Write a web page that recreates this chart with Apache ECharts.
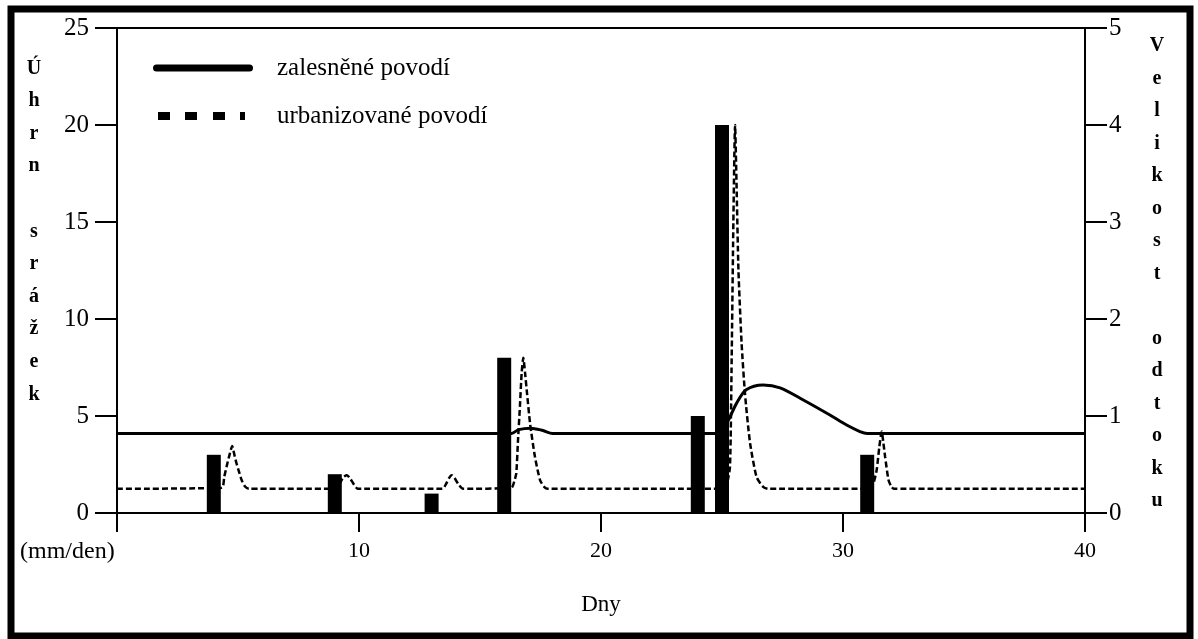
<!DOCTYPE html>
<html>
<head>
<meta charset="utf-8">
<script src="https://cdn.jsdelivr.net/npm/echarts@6/dist/echarts.min.js"></script>
<style>
html,body{margin:0;padding:0;background:#fff;}
#chart{width:1198px;height:639px;}
</style>
</head>
<body>
<div id="chart"></div>
<script>
// ---- data ----
const rainDays = [4, 9, 13, 16, 24, 25, 31];
const rainMm   = [3, 2, 1, 8, 5, 20, 3];

const forestDays = [0, 16.3, 16.6, 17.1, 17.6, 18.0, 25.0, 25.15, 25.33, 25.6, 26.0, 26.7, 27.4, 28.36, 29.46, 30.15, 30.7, 31.0, 40];
const forestFlow = [0.82, 0.82, 0.86, 0.875, 0.85, 0.82, 0.82, 0.9, 0.99, 1.13, 1.27, 1.32, 1.29, 1.165, 1.01, 0.907, 0.84, 0.82, 0.82];

const urbanDays = [0, 4.33, 4.43, 4.53, 4.65, 4.76, 4.85, 4.94, 5.05, 5.15, 5.3, 5.45,
  9.0, 9.2, 9.35, 9.5, 9.65, 9.8, 9.95,
  13.45, 13.6, 13.72, 13.83, 13.95, 14.1, 14.3,
  16.3, 16.42, 16.5, 16.57, 16.65, 16.72, 16.79, 16.86, 16.93, 17.07, 17.27, 17.48, 17.65, 17.8,
  25.0, 25.2, 25.33, 25.4, 25.47, 25.54, 25.6, 25.68, 25.81, 25.95, 26.16, 26.43, 26.7, 26.9,
  31.1, 31.25, 31.39, 31.5, 31.6, 31.67, 31.74, 31.88, 32.0, 32.1, 40];
const urbanFlow = [0.25, 0.26, 0.37, 0.48, 0.6, 0.69, 0.6, 0.51, 0.42, 0.34, 0.27, 0.25,
  0.25, 0.3, 0.37, 0.39, 0.35, 0.29, 0.25,
  0.25, 0.3, 0.36, 0.39, 0.36, 0.3, 0.25,
  0.26, 0.33, 0.41, 0.75, 1.1, 1.44, 1.6, 1.45, 1.27, 0.92, 0.58, 0.34, 0.27, 0.25,
  0.25, 0.3, 0.48, 1.6, 3.0, 4.0, 3.4, 2.5, 1.75, 1.23, 0.72, 0.37, 0.27, 0.25,
  0.25, 0.3, 0.44, 0.68, 0.84, 0.72, 0.58, 0.34, 0.27, 0.25, 0.25];

const xTicks = [0, 10, 20, 30, 40];
const leftTitle = 'Úhrn srážek';
const rightTitle = 'Velikost odtoku';
const forestName = 'zalesněné povodí';
const urbanName = 'urbanizované povodí';

// ---- helpers ----
const zip = (a, b) => a.map((v, i) => [v, b[i]]);
const stack = s => s.split('').map(c => c === ' ' ? '' : c).join('\n');
const FONT = '"Liberation Serif", "Times New Roman", serif';

const chart = echarts.init(document.getElementById('chart'), null, {renderer: 'canvas'});
chart.setOption({
  animation: false,
  backgroundColor: '#fff',
  textStyle: {fontFamily: FONT, color: '#000'},
  grid: {left: 117, right: 113, top: 28, bottom: 126, show: true, borderColor: '#000', borderWidth: 2, backgroundColor: 'transparent'},
  legend: {
    orient: 'vertical', left: 148, top: 48,
    itemWidth: 100, itemHeight: 8, itemGap: 18,
    textStyle: {fontFamily: FONT, fontSize: 25, color: '#000', lineHeight: 30, padding: [0, 0, 0, 19]},
    data: [
      {name: forestName, icon: 'path://M3.5,0H96.5A3.5,3.5,0,0,1,96.5,7H3.5A3.5,3.5,0,0,1,3.5,0Z'},
      {name: urbanName, icon: 'path://M0,0h0.01v0.01h-0.01z M5,0h12v8h-12z M32,0h12v8h-12z M60,0h12v8h-12z M87,0h5v8h-5z M99.99,7.99h0.01v0.01h-0.01z'}
    ],
    selectedMode: false
  },
  xAxis: {
    type: 'value', min: 0, max: 40, interval: 10,
    axisLine: {show: true, onZero: false, lineStyle: {color: '#000', width: 2}},
    axisTick: {show: true, length: 19, lineStyle: {color: '#000', width: 2}},
    axisLabel: {margin: 27, fontSize: 22, fontFamily: FONT, color: '#000',
      formatter: v => (v === xTicks[0] ? '' : String(v))},
    splitLine: {show: false},
    name: 'Dny', nameLocation: 'middle', nameGap: 80,
    nameTextStyle: {fontSize: 23, fontFamily: FONT, color: '#000'}
  },
  yAxis: [
    {
      type: 'value', min: 0, max: 25, interval: 5, position: 'left',
      axisLine: {show: true, lineStyle: {color: '#000', width: 2}},
      axisTick: {show: true, length: 22, lineStyle: {color: '#000', width: 2}},
      axisLabel: {margin: 28, fontSize: 25, fontFamily: FONT, color: '#000'},
      splitLine: {show: false},
      name: stack(leftTitle) + '\n{pad| }', nameLocation: 'middle', nameGap: 83, nameRotate: 0,
      nameTextStyle: {align: 'center', verticalAlign: 'middle', fontSize: 20, fontWeight: 'bold',
        fontFamily: FONT, color: '#000', lineHeight: 32.6,
        rich: {pad: {lineHeight: 78, fontSize: 2}}}
    },
    {
      type: 'value', min: 0, max: 5, interval: 1, position: 'right',
      axisLine: {show: true, lineStyle: {color: '#000', width: 2}},
      axisTick: {show: true, length: 22, lineStyle: {color: '#000', width: 2}},
      axisLabel: {margin: 24, fontSize: 25, fontFamily: FONT, color: '#000'},
      splitLine: {show: false},
      name: '{pad| }\n' + stack(rightTitle), nameLocation: 'middle', nameGap: 72, nameRotate: 0,
      nameTextStyle: {align: 'center', verticalAlign: 'middle', fontSize: 20, fontWeight: 'bold',
        fontFamily: FONT, color: '#000', lineHeight: 32.5,
        rich: {pad: {lineHeight: 6, fontSize: 2}}}
    }
  ],
  graphic: [
    {type: 'rect', silent: true, shape: {x: 11, y: 9, width: 1179, height: 627},
      style: {fill: 'none', stroke: '#000', lineWidth: 7}},
    {type: 'text', silent: true,
      style: {text: '(mm/den)', x: 20, y: 552, fontSize: 24, fontFamily: FONT, fill: '#000', verticalAlign: 'middle'}}
  ],
  series: [
    {
      type: 'line', name: forestName, yAxisIndex: 1, data: zip(forestDays, forestFlow),
      symbol: 'none', showSymbol: false, smooth: 0.3,
      lineStyle: {color: '#000', width: 3}, itemStyle: {color: '#000'}, z: 2
    },
    {
      type: 'line', name: urbanName, yAxisIndex: 1, data: zip(urbanDays, urbanFlow),
      symbol: 'none', showSymbol: false, smooth: 0.2,
      lineStyle: {color: '#000', width: 2.5, type: [6, 3]}, itemStyle: {color: '#000'}, z: 2
    },
    {
      type: 'bar', name: 'Úhrn srážek', yAxisIndex: 0, data: zip(rainDays, rainMm),
      barWidth: 14, itemStyle: {color: '#000'}, z: 3
    }
  ]
});
</script>
</body>
</html>
